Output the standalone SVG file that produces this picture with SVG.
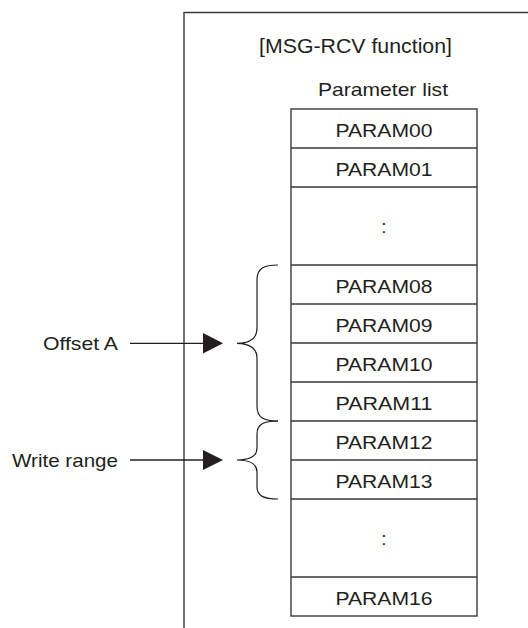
<svg xmlns="http://www.w3.org/2000/svg" width="528" height="628" viewBox="0 0 528 628">
<style>
text{font-family:"Liberation Sans",Arial,sans-serif;font-size:19px;fill:#231f20}
.t{font-size:20px}
.c{text-anchor:middle}
.box{fill:none;stroke:#3a3a3a;stroke-width:1.4}
.ln{fill:none;stroke:#231f20;stroke-width:1.3}
.br{fill:none;stroke:#231f20;stroke-width:1.2}
</style>
<g id="frame">
<path class="box" d="M184,628 L184,12.5 L528,12.5"/>
<text x="355.5" y="53" class="c t" textLength="193" lengthAdjust="spacingAndGlyphs">[MSG-RCV function]</text>
<text x="383" y="96" class="c" textLength="130" lengthAdjust="spacingAndGlyphs">Parameter list</text>
</g>
<g id="table">
<rect class="box" x="291" y="109" width="186" height="507"/>
<path class="box" d="M291,148H477M291,187H477M291,265H477M291,304H477M291,343H477M291,382H477M291,421H477M291,460H477M291,499H477M291,577H477"/>
</g>
<g id="p00"><text x="384" y="136.5" class="c" textLength="97" lengthAdjust="spacingAndGlyphs">PARAM00</text></g>
<g id="p01"><text x="384" y="175.5" class="c" textLength="97" lengthAdjust="spacingAndGlyphs">PARAM01</text></g>
<g id="d1"><text x="384" y="233" class="c">:</text></g>
<g id="p08"><text x="384" y="292.5" class="c" textLength="97" lengthAdjust="spacingAndGlyphs">PARAM08</text></g>
<g id="p09"><text x="384" y="331.5" class="c" textLength="97" lengthAdjust="spacingAndGlyphs">PARAM09</text></g>
<g id="p10"><text x="384" y="370.5" class="c" textLength="97" lengthAdjust="spacingAndGlyphs">PARAM10</text></g>
<g id="p11"><text x="384" y="409.5" class="c" textLength="97" lengthAdjust="spacingAndGlyphs">PARAM11</text></g>
<g id="p12"><text x="384" y="448.5" class="c" textLength="97" lengthAdjust="spacingAndGlyphs">PARAM12</text></g>
<g id="p13"><text x="384" y="487.5" class="c" textLength="97" lengthAdjust="spacingAndGlyphs">PARAM13</text></g>
<g id="d2"><text x="384" y="545" class="c">:</text></g>
<g id="p16"><text x="384" y="604.5" class="c" textLength="97" lengthAdjust="spacingAndGlyphs">PARAM16</text></g>
<g id="offsetA"><text x="43" y="350" textLength="75" lengthAdjust="spacingAndGlyphs">Offset A</text></g>
<g id="writeRange"><text x="12" y="466.5" textLength="106" lengthAdjust="spacingAndGlyphs">Write range</text></g>
<g id="connectors">
<path class="ln" d="M130,343.3H205"/>
<polygon points="203,333 223,343.3 203,353.6" fill="#231f20"/>
<path class="ln" d="M130,460H205"/>
<polygon points="203,450 223,460 203,470" fill="#231f20"/>
<path class="br" d="M278,265 C264,265 257,268 257,280 L257,328 C257,338 250,343.3 237,343.3 C250,343.3 257,349 257,358 L257,406 C257,418 264,421 278,421"/>
<path class="br" d="M278,421 C264,421 257,424 257,434 L257,448 C257,456 250,460 237,460 C250,460 257,464 257,472 L257,487 C257,496 264,499 278,499"/>
</g>
</svg>
